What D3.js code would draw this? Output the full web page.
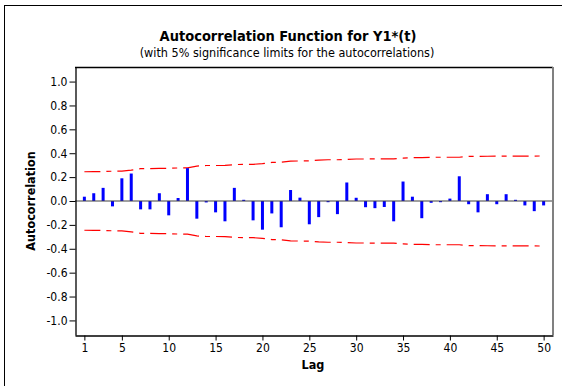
<!DOCTYPE html>
<html>
<head>
<meta charset="utf-8">
<script src="https://cdn.jsdelivr.net/npm/d3@7"></script>
<style>
  html, body { margin: 0; padding: 0; background: #fff; }
  svg { display: block; }
  text { font-family: "DejaVu Sans Condensed", "DejaVu Sans", sans-serif; fill: #000; }
</style>
</head>
<body>
<svg id="chart" width="571" height="386"></svg>
<script>
// Sample autocorrelations of Y1*(t) for lags 1..50
const lags = d3.range(1, 51);
const acf = [
   0.036,  0.065,  0.110, -0.045,  0.190,  0.230, -0.070, -0.070,  0.065, -0.120,
   0.025,  0.275, -0.148, -0.012, -0.095, -0.170,  0.110,  0.010, -0.162, -0.240,
  -0.104, -0.220,  0.092,  0.028, -0.195, -0.135, -0.010, -0.110,  0.155,  0.027,
  -0.052, -0.060, -0.050, -0.170,  0.163,  0.036, -0.144, -0.015, -0.010,  0.020,
   0.207, -0.027, -0.095,  0.057, -0.027,  0.057,  0.010, -0.037, -0.085, -0.037
];
const nObs = 64;          // series length behind the 5% limits
const xTicks = [1, 5, 10, 15, 20, 25, 30, 35, 40, 45, 50];
const yTicks = [-1.0, -0.8, -0.6, -0.4, -0.2, 0.0, 0.2, 0.4, 0.6, 0.8, 1.0];
const titleText = "Autocorrelation Function for Y1*(t)";
const subtitleText = "(with 5% significance limits for the autocorrelations)";

// Bartlett 5% limits: 1.96 * sqrt((1 + 2 * sum_{j<k} r_j^2) / n)
let cum = 0;
const limits = acf.map((r, i) => {
  const l = 1.96 * Math.sqrt((1 + 2 * cum) / nObs);
  cum += r * r;
  return l;
});

const svg = d3.select("#chart");
const plot = { left: 75, right: 553, top: 67, bottom: 335 };

const x = d3.scaleLinear().domain([0, 51]).range([plot.left, plot.right]);
const y = d3.scaleLinear().domain([-1.122, 1.122]).range([plot.bottom, plot.top]);

// outer frame (top and left edges)
svg.append("line").attr("x1", 4).attr("x2", 562).attr("y1", 5.5).attr("y2", 5.5)
  .attr("stroke", "#000").attr("stroke-width", 1);
svg.append("line").attr("x1", 4.5).attr("x2", 4.5).attr("y1", 5).attr("y2", 386)
  .attr("stroke", "#000").attr("stroke-width", 1);

// titles
svg.append("text").attr("x", 288).attr("y", 41).attr("text-anchor", "middle")
  .attr("font-size", 14.5).attr("font-weight", "bold").text(titleText);
svg.append("text").attr("x", 287).attr("y", 57).attr("text-anchor", "middle")
  .attr("font-size", 12.5).text(subtitleText);

// significance limits
const limitLine = sign => d3.line()
  .x((d, i) => x(lags[i]))
  .y((d) => y(sign * d));
[1, -1].forEach(s => {
  svg.append("path").datum(limits)
    .attr("d", limitLine(s))
    .attr("fill", "none").attr("stroke", "#ff0000").attr("stroke-width", 1.2)
    .attr("stroke-dasharray", "16,6,5,6");
});

// autocorrelation bars
svg.append("g").selectAll("rect").data(acf).join("rect")
  .attr("x", (d, i) => x(lags[i]) - 1.5)
  .attr("width", 3)
  .attr("y", d => y(Math.max(0, d)))
  .attr("height", d => Math.abs(y(d) - y(0)))
  .attr("fill", "#0000ff");

// zero reference line
svg.append("line").attr("x1", plot.left).attr("x2", plot.right)
  .attr("y1", y(0)).attr("y2", y(0)).attr("stroke", "#404040").attr("stroke-width", 1.2);

// plot frame
svg.append("line").attr("x1", plot.left).attr("x2", plot.right)
  .attr("y1", plot.top + 0.5).attr("y2", plot.top + 0.5).attr("stroke", "#000").attr("stroke-width", 1.3);
svg.append("line").attr("x1", plot.right).attr("x2", plot.right)
  .attr("y1", plot.top).attr("y2", plot.bottom).attr("stroke", "#808080").attr("stroke-width", 2);

// axes
const yAxis = d3.axisLeft(y).tickValues(yTicks).tickSize(6).tickSizeOuter(0)
  .tickFormat(d3.format(".1f"));
const gy = svg.append("g").attr("transform", `translate(${plot.left + 0.5},0)`).call(yAxis);
gy.select(".domain").attr("stroke", "#000").attr("stroke-width", 1.3);
gy.selectAll("text").attr("font-size", 12).attr("font-family", '"DejaVu Sans Condensed", "DejaVu Sans", sans-serif')
  .attr("fill", "#000").attr("x", -8).text(d => d3.format(".1f")(d).replace("−", "-"));

const xAxis = d3.axisBottom(x).tickValues(xTicks).tickSize(5).tickSizeOuter(0)
  .tickFormat(d3.format("d"));
const gx = svg.append("g").attr("transform", `translate(0,${plot.bottom + 0.5})`).call(xAxis);
gx.select(".domain").attr("stroke", "#000").attr("stroke-width", 1.3);
gx.selectAll("text").attr("font-size", 12).attr("font-family", '"DejaVu Sans Condensed", "DejaVu Sans", sans-serif')
  .attr("fill", "#000").attr("y", 8);

// axis titles
svg.append("text").attr("x", 313).attr("y", 369).attr("text-anchor", "middle")
  .attr("font-size", 12.5).attr("font-weight", "bold").text("Lag");
svg.append("text").attr("transform", `translate(35,${y(0)}) rotate(-90)`)
  .attr("text-anchor", "middle").attr("font-size", 12.5).attr("font-weight", "bold")
  .text("Autocorrelation");
</script>
</body>
</html>
